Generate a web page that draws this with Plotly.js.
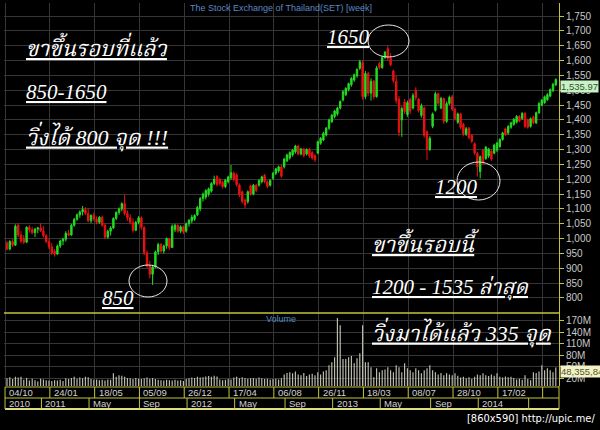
<!DOCTYPE html>
<html><head><meta charset="utf-8">
<script src="https://cdn.plot.ly/plotly-3.0.1.min.js"></script>
<style>html,body{margin:0;padding:0;background:#000;}#chart{width:600px;height:430px;}</style>
</head><body><div id="chart"></div>
<script>
// Weekly SET index candles, first week starting 2010-10-04
const open  = [985,965,990,978,1045,1012,1000,988,1038,1030,1020,1032,1036,1026,1010,990,972,958,948,975,992,998,1018,1012,1045,1065,1080,1090,1098,1085,1060,1078,1066,1055,1072,1045,1005,1025,1036,1068,1088,1100,1118,1085,1070,1055,1028,1055,1070,1038,952,908,880,
905,955,980,958,975,1000,970,1030,1045,1025,1040,1025,1050,1060,1065,1080,1100,1135,1140,1150,1160,1186,1209,1200,1190,1175,1192,1205,1220,1215,1181,1158,1130,1124,1178,1150,1180,1180,1192,1214,1192,1180,1203,1220,1228,1242,1242,1262,
1272,1282,1292,1312,1285,1302,1285,1300,1290,1280,1288,1321,1332,1349,1372,1394,1411,1420,1440,1467,1485,1502,1518,1534,1548,1574,1592,1478,1556,1490,1530,1478,1590,1576,1610,1640,1608,1565,1530,1470,1400,1460,1418,1468,1440,1500,1470,1415,1440,1360,1300,1378,1432,
1488,1440,1472,1395,1455,1478,1436,1392,1420,1385,1352,1372,1348,1320,1287,1226,1298,1270,1278,1295,1288,1298,1310,1334,1370,1356,1375,1385,1392,1412,1405,1422,1400,1378,1410,1390,1424,1450,1458,1468,1480,1498,1518];
const high  = [992,995,998,1048,1052,1025,1012,1042,1045,1040,1036,1040,1052,1042,1015,1000,985,965,980,996,1003,1025,1030,1050,1070,1085,1095,1110,1106,1102,1082,1088,1075,1076,1078,1052,1030,1042,1072,1092,1105,1122,1148,1095,1082,1068,1060,1076,1075,1042,960,925,912,
960,986,985,980,1004,1002,1048,1050,1048,1045,1044,1054,1066,1080,1082,1110,1140,1155,1166,1172,1190,1212,1214,1205,1195,1201,1212,1248,1226,1220,1186,1162,1136,1162,1182,1184,1185,1200,1212,1218,1196,1200,1225,1238,1246,1248,1272,1286,
1294,1302,1316,1316,1306,1306,1304,1305,1296,1284,1330,1342,1360,1376,1404,1420,1434,1444,1466,1500,1510,1526,1544,1556,1574,1602,1600,1565,1562,1540,1535,1582,1595,1615,1632,1649,1625,1570,1548,1480,1445,1470,1465,1475,1490,1510,1472,1455,1445,1365,1345,1425,1495,
1492,1478,1475,1462,1482,1484,1442,1425,1424,1390,1376,1376,1352,1324,1292,1280,1302,1312,1306,1300,1320,1326,1338,1360,1374,1382,1394,1406,1416,1416,1426,1426,1404,1408,1414,1428,1460,1470,1482,1490,1506,1525,1540];
const low   = [960,960,972,975,1005,985,982,985,1020,1015,1005,1018,1022,1004,985,965,945,939,945,968,978,990,1008,1010,1040,1060,1070,1078,1080,1055,1052,1060,1048,1050,1040,998,1000,1010,1032,1062,1080,1092,1078,1060,1048,1020,1025,1048,1030,945,900,866,844,
900,945,952,950,966,962,968,1022,1020,1018,1015,1020,1040,1052,1060,1076,1092,1125,1132,1142,1155,1180,1176,1178,1168,1170,1186,1198,1192,1176,1140,1118,1102,1118,1145,1146,1156,1175,1186,1186,1170,1175,1198,1214,1222,1205,1236,1258,
1266,1276,1286,1280,1280,1274,1280,1272,1266,1258,1284,1316,1328,1344,1366,1390,1405,1414,1435,1462,1480,1496,1512,1528,1542,1568,1468,1470,1480,1465,1470,1475,1570,1572,1605,1600,1580,1525,1455,1345,1343,1420,1410,1420,1435,1465,1425,1408,1340,1265,1295,1372,1428,
1450,1436,1386,1390,1450,1430,1398,1386,1368,1345,1346,1335,1322,1282,1209,1203,1250,1265,1272,1262,1284,1292,1306,1330,1345,1350,1370,1380,1388,1392,1400,1372,1370,1374,1385,1386,1420,1446,1454,1464,1476,1494,1514];
const close = [965,990,978,1042,1012,992,988,1038,1030,1020,1032,1036,1026,1010,990,972,952,948,975,992,998,1018,1012,1045,1065,1080,1090,1098,1085,1060,1078,1066,1055,1072,1045,1005,1025,1036,1068,1088,1100,1118,1085,1070,1055,1028,1055,1070,1038,952,908,880,905,
955,980,958,975,1000,970,1042,1045,1025,1040,1022,1050,1062,1072,1078,1105,1135,1150,1162,1168,1186,1200,1182,1186,1175,1197,1208,1222,1200,1182,1148,1125,1113,1158,1150,1180,1162,1196,1208,1192,1176,1196,1220,1235,1242,1210,1268,1282,
1290,1298,1312,1285,1302,1280,1300,1278,1272,1266,1326,1338,1355,1372,1400,1416,1430,1440,1462,1495,1506,1522,1540,1552,1570,1596,1478,1556,1490,1530,1478,1575,1576,1610,1628,1608,1586,1532,1465,1358,1438,1428,1458,1430,1482,1475,1432,1448,1348,1300,1338,1420,1488,
1456,1472,1395,1455,1476,1436,1404,1420,1375,1352,1370,1340,1328,1288,1242,1276,1255,1308,1302,1268,1315,1322,1334,1356,1350,1378,1390,1402,1412,1396,1422,1378,1375,1404,1390,1424,1455,1466,1478,1485,1502,1520,1535.97];
// Weekly volume, millions
const volumeM = [20,23,18,24,22,24,16,21,14,19,15,12,19,17,15,14,13,15,14,16,13,20,18,21,24,19,22,20,24,23,18,16,17,15,16,14,17,16,33,24,28,27,24,21,20,18,21,19,18,20,22,19,21,
18,16,15,14,16,15,14,16,14,15,13,18,20,22,21,24,22,23,25,26,24,27,25,17,15,16,18,17,22,24,20,23,21,19,20,21,19,22,20,18,19,17,18,19,17,20,30,34,
36,33,38,30,28,34,26,30,32,28,36,30,38,41,54,62,75,177,158,70,70,75,78,59,72,85,158,62,62,49,23,46,36,41,43,49,41,36,54,49,36,59,46,41,36,46,41,33,41,46,54,41,36,
30,34,28,33,30,28,33,27,22,24,20,23,19,24,30,28,33,28,26,30,27,33,24,22,25,23,24,21,17,19,16,28,18,15,36,34,38,54,41,46,41,36,48.35584];

const dayMonthLabels = ['04/10','24/01','18/05','05/09','26/12','17/04','06/08','26/11','18/03','08/07','28/10','17/02',''];
const dayMonthIdx    = [0,16,32,48,64,80,96,112,128,144,160,176,192];
const periodLabels   = ['2010','2011','May','Sep','2012','May','Sep','2013','May','Sep','2014',''];
const periodIdx      = [0,13,30,48,65,82,100,117,134,152,169,187];
const priceTicks = [800,850,900,950,1000,1050,1100,1150,1200,1250,1300,1350,1400,1450,1500,1550,1600,1650,1700,1750];
const volTicks = [20,50,80,110,140,170];

const idx = close.map((_, i) => i);

// frame geometry (pixels)
const L = 4, R = 559, T = 3, B = 409;
const px = X => (X - L) / (R - L);
const py = Y => (B - Y) / (B - T);
const OFF = -0.7;   // boundary just left of a bar
const YEL = '#c4c43a';
const GRID = '#363636';

const candle = {
  type: 'candlestick', x: idx, open: open, high: high, low: low, close: close,
  xaxis: 'x', yaxis: 'y', whiskerwidth: 0,
  increasing: {line: {color: '#22dd22', width: 1}, fillcolor: '#22dd22'},
  decreasing: {line: {color: '#ee1111', width: 1}, fillcolor: '#ee1111'},
  hoverinfo: 'skip', showlegend: false
};
const vol = {
  type: 'bar', x: idx, y: volumeM, xaxis: 'x', yaxis: 'y2', width: 0.42,
  marker: {color: '#bdbdad', line: {width: 0}}, hoverinfo: 'skip', showlegend: false
};

const thaiFont = {family: "'Liberation Serif','Norasi','Noto Serif Thai','Garuda','Loma',serif", color: '#ffffff', style: 'italic'};
function txt(text, X, Y, size, extra) {
  return Object.assign({text: '<u>' + text + '</u>', xref: 'paper', yref: 'paper', x: px(X), y: py(Y),
    xanchor: 'left', yanchor: 'middle', showarrow: false, font: Object.assign({}, thaiFont, {size: size})}, extra || {});
}

const ann = [
  {text: 'The Stock Exchange of Thailand(SET) [week]', xref: 'paper', yref: 'paper', x: px(281), y: py(7.5),
   xanchor: 'center', yanchor: 'middle', showarrow: false, font: {family: 'Liberation Sans, Arial', size: 9, color: '#5b88c4'}},
  {text: 'Volume', xref: 'paper', yref: 'paper', x: px(281), y: py(319), xanchor: 'center', yanchor: 'middle',
   showarrow: false, font: {family: 'Liberation Sans, Arial', size: 9, color: '#5b88c4'}},
  txt('ขาขึ้นรอบที่แล้ว', 24, 47, 22),
  txt('850-1650', 24, 92, 21),
  txt('วิ่งได้ 800 จุด !!!', 24, 136, 22),
  txt('1650', 325, 37, 21),
  txt('850', 100, 298, 21),
  txt('1200', 433, 187, 21),
  txt('ขาขึ้นรอบนี้', 370, 242, 22),
  txt('1200 - 1535 ล่าสุด', 370, 288, 21),
  txt('วิ่งมาได้แล้ว 335 จุด', 370, 332, 22),
  {text: close[close.length - 1].toLocaleString('en-US', {minimumFractionDigits: 2}), xref: 'paper', yref: 'y',
   x: px(560), y: close[close.length - 1], yshift: -7, xanchor: 'left', yanchor: 'middle', showarrow: false,
   bgcolor: '#c9f2c4', borderpad: 0, font: {family: 'Liberation Sans, Arial', size: 9.5, color: '#335533'}},
  {text: Math.round(volumeM[volumeM.length - 1] * 1e6).toLocaleString('en-US'), xref: 'paper', yref: 'y2',
   x: px(560), y: volumeM[volumeM.length - 1], yshift: -4, xanchor: 'left', yanchor: 'middle', showarrow: false,
   bgcolor: '#f2f2c4', borderpad: 0, font: {family: 'Liberation Sans, Arial', size: 9.5, color: '#555533'}},
  {text: '[860x590] http://upic.me/', xref: 'paper', yref: 'paper', x: px(597), y: py(418), xanchor: 'right', yanchor: 'middle',
   showarrow: false, font: {family: 'DejaVu Sans Condensed, DejaVu Sans', size: 11, color: '#ffffff'}}
];
dayMonthIdx.forEach((v, k) => {
  if (dayMonthLabels[k]) ann.push({text: dayMonthLabels[k], xref: 'x', yref: 'paper', x: v + OFF, xshift: 2,
    y: py(392.5), xanchor: 'left', yanchor: 'middle', showarrow: false,
    font: {family: 'Liberation Sans, Arial', size: 9.5, color: '#d0d0d0'}});
});
periodIdx.forEach((v, k) => {
  if (periodLabels[k]) ann.push({text: periodLabels[k], xref: 'x', yref: 'paper', x: v + OFF, xshift: 2,
    y: py(403.5), xanchor: 'left', yanchor: 'middle', showarrow: false,
    font: {family: 'Liberation Sans, Arial', size: 9.5, color: '#d0d0d0'}});
});

const shapes = [
  {type: 'line', xref: 'paper', yref: 'paper', x0: 0, x1: 1, y0: py(313), y1: py(313), line: {color: YEL, width: 1.5}},
  {type: 'line', xref: 'x', yref: 'paper', x0: OFF, x1: 197.2, y0: py(387), y1: py(387), line: {color: YEL, width: 1}},
  {type: 'line', xref: 'x', yref: 'paper', x0: OFF, x1: 197.2, y0: py(398), y1: py(398), line: {color: YEL, width: 1}},
  {type: 'line', xref: 'x', yref: 'paper', x0: OFF, x1: 197.2, y0: py(409), y1: py(409), line: {color: '#dede80', width: 2}},
  {type: 'line', xref: 'paper', yref: 'paper', x0: 1, x1: 1, y0: py(409), y1: py(386), line: {color: YEL, width: 1}},
  // circles drawn round the turning points
  {type: 'circle', xref: 'paper', yref: 'paper', x0: px(368), x1: px(409), y0: py(25), y1: py(57), line: {color: '#e8e8e8', width: 1}},
  {type: 'circle', xref: 'paper', yref: 'paper', x0: px(129), x1: px(167), y0: py(265), y1: py(297), line: {color: '#e8e8e8', width: 1}},
  {type: 'circle', xref: 'paper', yref: 'paper', x0: px(457), x1: px(500), y0: py(162), y1: py(200), line: {color: '#e8e8e8', width: 1}}
];
dayMonthIdx.forEach(v => shapes.push({type: 'line', xref: 'x', yref: 'paper', x0: v + OFF, x1: v + OFF,
  y0: py(398), y1: py(387), line: {color: YEL, width: 1}}));
periodIdx.forEach(v => shapes.push({type: 'line', xref: 'x', yref: 'paper', x0: v + OFF, x1: v + OFF,
  y0: py(409), y1: py(398), line: {color: YEL, width: 1}}));

const layout = {
  width: 600, height: 430,
  margin: {l: L, r: 600 - R, t: T, b: 430 - B, pad: 0},
  paper_bgcolor: '#000', plot_bgcolor: '#000',
  showlegend: false, dragmode: false,
  xaxis: {range: [(L - 7) / 2.8, (R - 7) / 2.8], anchor: 'y2', showticklabels: false, ticks: '',
    tickvals: dayMonthIdx.map(v => v + OFF), showgrid: true, gridcolor: GRID, gridwidth: 1,
    zeroline: false, showline: false, rangeslider: {visible: false}, fixedrange: true},
  yaxis: {domain: [py(313), 1], range: [1750 - (313 - 16) * 3.369, 1750 - (3 - 16) * 3.369], side: 'right', anchor: 'x',
    tickvals: priceTicks, tickformat: ',d', ticks: 'outside', ticklen: 4, tickcolor: YEL,
    showline: true, linecolor: YEL, linewidth: 1, showgrid: true, gridcolor: GRID, zeroline: false,
    tickfont: {family: 'Liberation Sans, Arial', size: 10, color: '#c8c8c8'}, fixedrange: true},
  yaxis2: {domain: [py(386), py(313)], range: [0, 190], side: 'right', anchor: 'x',
    tickvals: volTicks, ticktext: volTicks.map(v => v + 'M'), ticks: 'outside', ticklen: 4, tickcolor: YEL,
    showline: true, linecolor: YEL, linewidth: 1, showgrid: true, gridcolor: GRID, zeroline: false,
    tickfont: {family: 'Liberation Sans, Arial', size: 10, color: '#c8c8c8'}, fixedrange: true},
  bargap: 0.5,
  annotations: ann,
  shapes: shapes
};

Plotly.newPlot('chart', [vol, candle], layout, {displayModeBar: false, staticPlot: true});
</script>
</body></html>
